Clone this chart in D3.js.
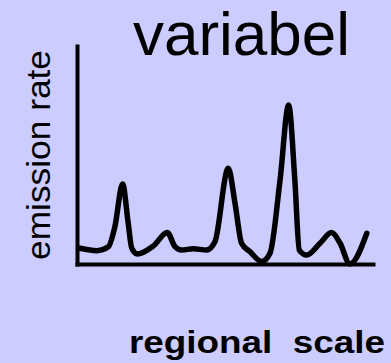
<!DOCTYPE html>
<html>
<head>
<meta charset="utf-8">
<script src="https://cdn.jsdelivr.net/npm/d3@7"></script>
<style>
  html, body { margin: 0; padding: 0; background: #ccccff; }
  svg { display: block; }
  text { font-family: "Liberation Sans", Arial, Helvetica, sans-serif; fill: #000; }
</style>
</head>
<body>
<svg id="chart" width="391" height="363"></svg>
<script>
// Data (x: position along the regional scale, y: emission rate)
const xValues = [1.0, 6.7, 10.6, 12.8, 15.4, 17.3, 18.5, 20.4, 25.8, 30.5, 33.1, 35.4, 39.3, 43.8, 46.6, 51.1, 53.4, 55.6, 58.4, 62.4, 65.2, 68.6, 71.5, 73.6, 75.1, 77.6, 82.1, 86.0, 88.9, 92.2, 97.9];
const yValues = [7.2, 6.1, 7.9, 17.1, 36.7, 18.7, 7.2, 4.6, 8.3, 14.4, 8.0, 6.4, 7.0, 6.4, 10.2, 43.9, 27.8, 9.5, 5.7, 1.1, 4.9, 38.5, 72.9, 38.5, 6.4, 4.1, 9.5, 14.4, 9.5, 0.0, 14.1];
const titleText = "variabel";
const yLabel = "emission rate";
const xLabel = "regional  scale";

const svg = d3.select("#chart");
const x = d3.scaleLinear().domain([0, 100]).range([77, 373]);
const y = d3.scaleLinear().domain([0, 100]).range([264, 46]);

const points = xValues.map((v, i) => [v, yValues[i]]);

// Axes (no ticks)
const xAxis = svg.append("g").attr("transform", `translate(0,${y(0)})`)
  .call(d3.axisBottom(x).tickValues([]).tickSizeOuter(0));
const yAxis = svg.append("g").attr("transform", `translate(${x(0)},0)`)
  .call(d3.axisLeft(y).tickValues([]).tickSizeOuter(0));
[xAxis, yAxis].forEach(g => g.select(".domain")
  .attr("stroke", "#000").attr("stroke-width", 4).attr("stroke-linecap", "square"));

// Curve
const line = d3.line()
  .x(d => x(d[0]))
  .y(d => y(d[1]))
  .curve(d3.curveMonotoneX);

svg.append("path")
  .datum(points)
  .attr("d", line)
  .attr("fill", "none")
  .attr("stroke", "#000")
  .attr("stroke-width", 5.5)
  .attr("stroke-linejoin", "round")
  .attr("stroke-linecap", "round");

// Title
svg.append("text")
  .attr("x", 241.5).attr("y", 55)
  .attr("text-anchor", "middle")
  .attr("font-size", 62)
  .text(titleText);

// Y label
svg.append("text")
  .attr("transform", "translate(50,155) rotate(-90)")
  .attr("text-anchor", "middle")
  .attr("font-size", 33)
  .attr("textLength", 210)
  .attr("lengthAdjust", "spacingAndGlyphs")
  .text(yLabel);

// X label
svg.append("text")
  .attr("x", 257).attr("y", 353)
  .attr("text-anchor", "middle")
  .attr("font-size", 32)
  .attr("font-weight", "bold")
  .attr("textLength", 256)
  .attr("lengthAdjust", "spacingAndGlyphs")
  .style("white-space", "pre")
  .text(xLabel);
</script>
</body>
</html>
